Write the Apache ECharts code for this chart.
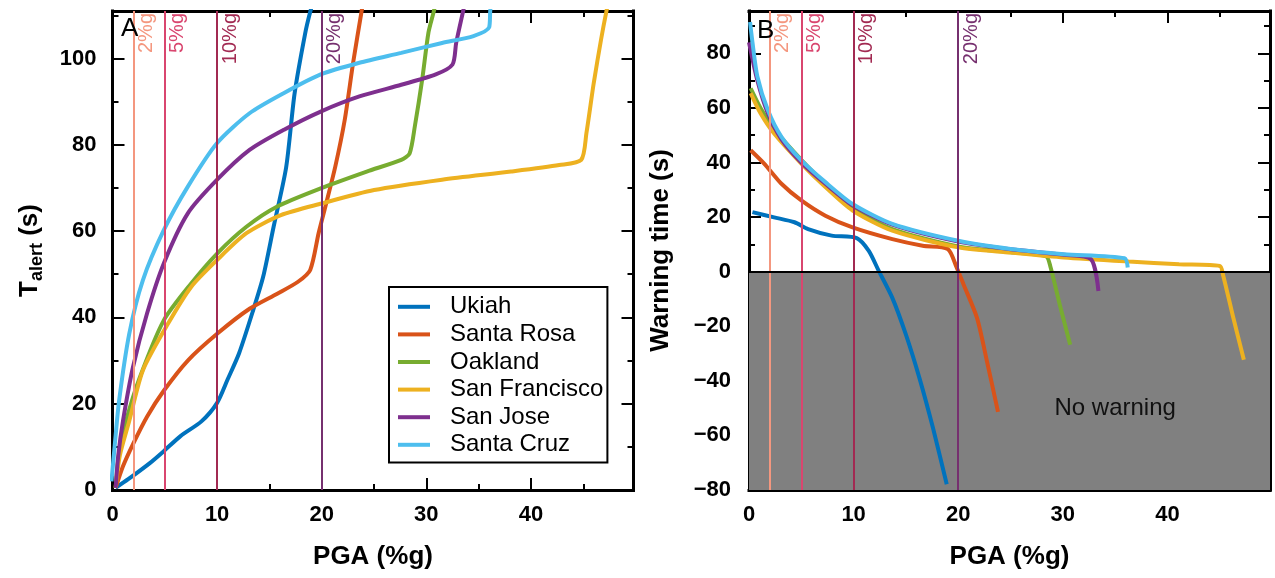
<!DOCTYPE html>
<html><head><meta charset="utf-8">
<script src="https://cdn.jsdelivr.net/npm/echarts@6/dist/echarts.min.js"></script>
<style>html,body{margin:0;padding:0;background:#fff}#c{width:1275px;height:578px}</style>
</head><body><div id="c"></div>
<script>
// ---------- data ----------
const cities = ['Ukiah', 'Santa Rosa', 'Oakland', 'San Francisco', 'San Jose', 'Santa Cruz'];
const cityColors = ['#0072BD', '#D95319', '#77AC30', '#EDB120', '#7E2F8E', '#4DBEEE'];

// Panel A: T_alert (s) vs PGA (%g)
const ukiahA_pga = [0.3, 1.5, 3.6, 4.9, 6.5, 8.5, 10, 11, 12.1, 13.45, 14.4, 15.4, 16.6, 17.4, 18.4, 18.9, 19.3];
const ukiahA_t   = [0.5, 2.5, 6.3, 9, 12.5, 15.9, 20.2, 25.6, 31.7, 41.7, 49.4, 61, 74.8, 91.8, 105.6, 110.8, 114];
const rosaA_pga  = [0.3, 1.0, 1.95, 3.3, 4.9, 7.2, 10, 13.1, 15.75, 17.7, 18.9, 19.7, 20.35, 21.3, 22.2, 23, 23.8, 24.2];
const rosaA_t    = [0.5, 5.5, 10.6, 17, 23, 30, 36.2, 42, 45.5, 48.2, 51, 59.5, 65.7, 75, 85.8, 99, 110.8, 116];
const oakA_pga   = [0.3, 0.6, 1.3, 2.6, 4.9, 7.5, 10, 12.8, 15.75, 19.9, 24.3, 27.6, 28.4, 28.9, 29.6, 30.2, 30.7, 31];
const oakA_t     = [0.5, 8, 16, 26, 39.3, 47.8, 54.8, 61, 65.7, 69.9, 73.8, 76.5, 78, 84.3, 95.1, 106, 110.8, 114];
const sfA_pga    = [0.3, 0.7, 1.6, 2.9, 5.2, 7.5, 10, 12.8, 16.1, 20, 25, 31.5, 38.1, 42.7, 44.8, 45.3, 46, 46.7, 47.2, 47.5];
const sfA_t      = [0.5, 8, 16, 27.7, 38.1, 47, 53.3, 59.5, 63.7, 66.4, 69.5, 71.9, 73.8, 75.3, 76.5, 82.7, 94.3, 104.4, 110.8, 114];
const sjA_pga    = [0.3, 0.55, 1, 1.95, 3.3, 4.9, 7.2, 10, 13.1, 16.4, 19.9, 23.6, 27.6, 30.9, 32.5, 32.85, 33.5, 33.8];
const sjA_t      = [0.5, 8, 16, 28.4, 40.9, 52.5, 64.1, 71.9, 78.8, 83.5, 87.7, 91.2, 93.9, 96.3, 98.6, 103.6, 110.8, 114];
const scA_pga    = [-0.1, 0.2, 0.63, 1.6, 2.9, 4.9, 7.2, 10, 13.1, 16.4, 19.9, 23.6, 27.6, 31.5, 34.5, 36, 36.1, 36.2];
const scA_t      = [2, 10, 20.7, 36.2, 48.6, 60.2, 70.3, 80.4, 87.3, 92, 96.3, 99, 101.3, 103.6, 105.2, 107.2, 110.8, 114];

// Panel B: warning time (s) vs PGA (%g)
const ukiahB_pga = [0.33, 2.4, 4.35, 5.65, 7.9, 10.3, 11.45, 12.4, 13.7, 15, 16.3, 17.6, 18.9];
const ukiahB_w   = [21.8, 19.9, 18.1, 15.6, 13.2, 12.3, 7.6, 0.3, -9.6, -23.1, -39.1, -57.5, -77.9];
const rosaB_pga  = [0.16, 1.45, 3.1, 5, 7.3, 9.9, 13.7, 16.6, 19, 19.85, 20.5, 21.8, 22.75, 23.8];
const rosaB_w    = [44.5, 39.6, 32.2, 26.1, 20.5, 16.2, 11.9, 9.5, 8.3, 1.5, -4.6, -17, -32.9, -51.4];
const oakB_pga   = [0.16, 1.1, 2.4, 5, 7.3, 9.9, 13.7, 20, 25, 28.4, 28.8, 29.7, 30.7];
const oakB_w     = [67.2, 60, 52.3, 41, 32.2, 23.3, 15.6, 9.2, 7.1, 5.6, 2, -12, -26.8];
const sfB_pga    = [0.16, 1.1, 2.4, 5, 7.3, 9.9, 13.7, 20, 25, 30.1, 36.3, 41.1, 45, 45.3, 46.3, 47.3];
const sfB_w      = [65.4, 58, 50.6, 39.6, 31, 22.4, 15, 8.9, 7, 5.2, 3.7, 2.7, 2.1, -1, -17, -32.3];
const sjB_pga    = [0, 0.8, 1.8, 3.1, 5, 7.3, 9.9, 13.7, 20, 25, 30.1, 32.7, 33.4];
const sjB_w      = [84, 70, 58, 48.5, 40, 32.2, 24.3, 17.2, 11, 8.2, 6.2, 4.5, -7.1];
const scB_pga    = [0.1, 0.3, 0.8, 1.8, 3.1, 5, 7.3, 9.9, 13.7, 20, 25, 30.1, 35.9, 36.2];
const scB_w      = [91.5, 85, 71.5, 59.2, 49.4, 40.8, 32.8, 24.8, 17.5, 11.3, 8.3, 6.4, 4.9, 1.5];

// Reference PGA levels
const refPGA    = [2, 5, 10, 20];
const refLabels = ['2%g', '5%g', '10%g', '20%g'];
const refColors = ['#F4977F', '#D9466F', '#A22A52', '#76306F'];

// Axes ranges and ticks
const pgaRange   = [0, 49.8];
const alertRange = [0, 111];
const warnRange  = [-80, 95.5];
const pgaMajor   = [0, 10, 20, 30, 40];
const alertMajor = [0, 20, 40, 60, 80, 100];
const warnMajor  = [-80, -60, -40, -20, 0, 20, 40, 60, 80];
const pgaStep = [10, 5];     // major, minor tick step
const alertStep = [20, 10];
const warnStep = [20, 10];
const noWarnPos  = [35, -50];

// ---------- chart ----------
const FONT = "'Liberation Sans', Arial, Helvetica, sans-serif";
const zip = (xs, ys) => xs.map((x, i) => [x, ys[i]]);
const fmt = v => v < 0 ? '\u2212' + (-v) : String(v);

function mkAxis(gi, pos, range, step, len, showLine, labels, extra) {
  return Object.assign({
    type: 'value', gridIndex: gi, position: pos, min: range[0], max: range[1], interval: step,
    splitLine: { show: false },
    axisLine: { show: showLine, onZero: false, lineStyle: { color: '#000', width: 3, cap: 'square' } },
    axisTick: { show: true, inside: true, length: len, lineStyle: { color: '#000', width: 2 } },
    axisLabel: labels ? { show: true, customValues: labels, formatter: fmt, color: '#000', margin: 14,
      fontFamily: FONT, fontSize: 22, fontWeight: 'bold' } : { show: false }
  }, extra || {});
}

const xNameStyle = { fontFamily: FONT, fontSize: 26, fontWeight: 'bold', color: '#000' };

const xAxes = [];
const yAxes = [];
[0, 1].forEach(gi => {
  xAxes.push(mkAxis(gi, 'bottom', pgaRange, pgaStep[0], 12, true, pgaMajor, {
    name: 'PGA (%g)', nameLocation: 'middle', nameGap: 54, nameTextStyle: xNameStyle
  }));
  xAxes.push(mkAxis(gi, 'bottom', pgaRange, pgaStep[1], 6, false, null));
  xAxes.push(mkAxis(gi, 'top', pgaRange, pgaStep[0], 12, true, null));
  xAxes.push(mkAxis(gi, 'top', pgaRange, pgaStep[1], 6, false, null));
});
// left panel y
const yA = mkAxis(0, 'left', alertRange, alertStep[0], 12, true, alertMajor, {
  name: '{a|T}{b|alert}{a| (s)}', nameLocation: 'middle', nameGap: 66, nameRotate: 90,
  nameTextStyle: { rich: {
    a: { fontFamily: FONT, fontSize: 26, fontWeight: 'bold', color: '#000', lineHeight: 34 },
    b: { fontFamily: FONT, fontSize: 18, fontWeight: 'bold', color: '#000', verticalAlign: 'bottom', lineHeight: 34 }
  } }
});
yA.axisLabel.margin = 16;
yAxes.push(yA);
yAxes.push(mkAxis(0, 'left', alertRange, alertStep[1], 6, false, null));
yAxes.push(mkAxis(0, 'right', alertRange, alertStep[0], 12, true, null));
yAxes.push(mkAxis(0, 'right', alertRange, alertStep[1], 6, false, null));
// right panel y
const yB = mkAxis(1, 'left', warnRange, warnStep[0], 12, true, warnMajor, {
  name: 'Warning time (s)', nameLocation: 'middle', nameGap: 75, nameRotate: 90,
  nameTextStyle: xNameStyle
});
yB.axisLabel.margin = 18;
yAxes.push(yB);
yAxes.push(mkAxis(1, 'left', warnRange, warnStep[1], 6, false, null));
yAxes.push(mkAxis(1, 'right', warnRange, warnStep[0], 12, true, null));
yAxes.push(mkAxis(1, 'right', warnRange, warnStep[1], 6, false, null));

function refMarkLine(extra) {
  const data = refPGA.map((v, i) => ({
    xAxis: v,
    lineStyle: { color: refColors[i], width: 2, type: 'solid' },
    label: { show: true, formatter: refLabels[i], position: 'insideEndBottom', color: refColors[i],
      fontFamily: FONT, fontSize: 20, distance: [2, 3] }
  }));
  return { silent: true, symbol: ['none', 'none'], animation: false, data: data.concat(extra || []) };
}

const aData = [zip(ukiahA_pga, ukiahA_t), zip(rosaA_pga, rosaA_t), zip(oakA_pga, oakA_t),
               zip(sfA_pga, sfA_t), zip(sjA_pga, sjA_t), zip(scA_pga, scA_t)];
const bData = [zip(ukiahB_pga, ukiahB_w), zip(rosaB_pga, rosaB_w), zip(oakB_pga, oakB_w),
               zip(sfB_pga, sfB_w), zip(sjB_pga, sjB_w), zip(scB_pga, scB_w)];

const series = [];
series.push({
  type: 'line', name: 'bg', xAxisIndex: 4, yAxisIndex: 4, data: [], z: 1, silent: true,
  markArea: { silent: true, itemStyle: { color: '#808080', opacity: 1 },
    data: [[{ xAxis: pgaRange[0], yAxis: warnRange[0] }, { xAxis: pgaRange[1], yAxis: 0 }]] }
});
series.push({
  type: 'line', name: 'refA', xAxisIndex: 0, yAxisIndex: 0, data: [], z: 2, silent: true,
  markLine: refMarkLine()
});
series.push({
  type: 'line', name: 'refB', xAxisIndex: 4, yAxisIndex: 4, data: [], z: 2, silent: true,
  markLine: refMarkLine([{ yAxis: 0, lineStyle: { color: '#000', width: 2, type: 'solid' }, label: { show: false } }]),
  markPoint: { silent: true, symbol: 'circle', symbolSize: 1, itemStyle: { color: 'rgba(0,0,0,0)' },
    label: { show: true, position: 'inside', formatter: 'No warning', color: '#111', fontFamily: FONT, fontSize: 24 },
    data: [{ coord: noWarnPos }] }
});
cities.forEach((c, i) => {
  [[0, aData[i]], [4, bData[i]]].forEach(([ai, d]) => {
    series.push({
      type: 'line', name: c, xAxisIndex: ai, yAxisIndex: ai, data: d, z: 3,
      showSymbol: false, symbol: 'none', clip: true, smooth: 0.25,
      lineStyle: { color: cityColors[i], width: 4 }, itemStyle: { color: cityColors[i] }
    });
  });
});

const chart = echarts.init(document.getElementById('c'), null, { renderer: 'canvas' });
chart.setOption({
  animation: false,
  backgroundColor: '#fff',
  textStyle: { fontFamily: FONT },
  title: [
    { text: 'A', left: 121, top: 16, padding: 0, textStyle: { fontFamily: FONT, fontSize: 26, fontWeight: 'normal', color: '#000' } },
    { text: 'B', left: 757, top: 18, padding: 0, textStyle: { fontFamily: FONT, fontSize: 26, fontWeight: 'normal', color: '#000' } }
  ],
  grid: [
    { left: 112.5, top: 11, width: 521, height: 479 },
    { left: 749, top: 11, width: 521, height: 479 }
  ],
  legend: {
    data: cities, orient: 'vertical', left: 389, top: 287,
    icon: 'rect', itemWidth: 32, itemHeight: 4, itemGap: 0,
    padding: [6, 4, 4, 9], borderColor: '#000', borderWidth: 2, backgroundColor: '#fff',
    textStyle: { fontFamily: FONT, fontSize: 24, color: '#000', lineHeight: 27.6, padding: [0, 0, 0, 15] }
  },
  xAxis: xAxes,
  yAxis: yAxes,
  series: series
});
</script>
</body></html>
